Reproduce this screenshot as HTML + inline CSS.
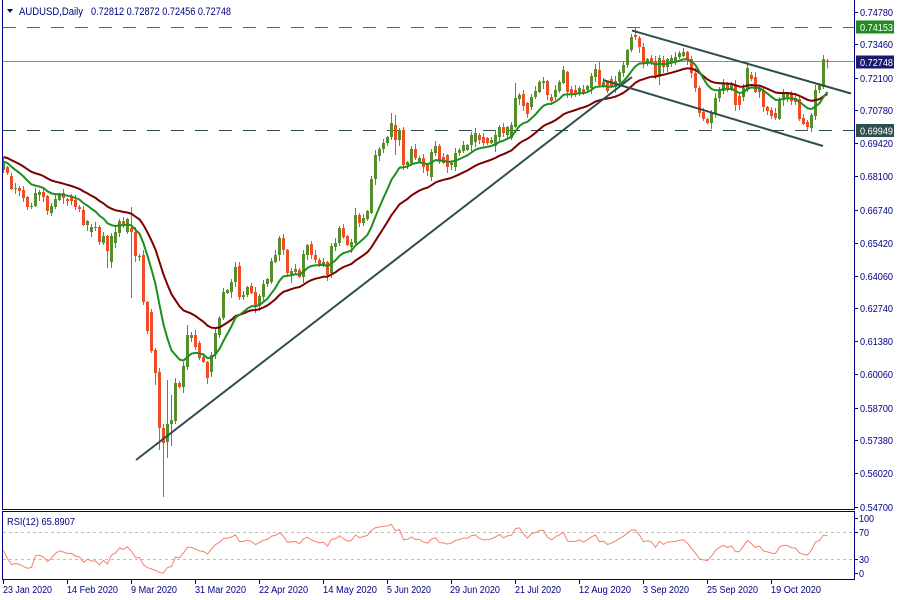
<!DOCTYPE html>
<html>
<head>
<meta charset="utf-8">
<style>
html,body{margin:0;padding:0;background:#fff;}
svg{display:block;}
text{font-family:"Liberation Sans",sans-serif;}
</style>
</head>
<body>
<svg id="c" width="900" height="600" viewBox="0 0 900 600" xmlns="http://www.w3.org/2000/svg">
<rect x="0" y="0" width="900" height="600" fill="#ffffff"/>

<!-- horizontal levels -->
<line x1="3" y1="27.5" x2="854" y2="27.5" stroke="#2E8B2E" stroke-width="1" stroke-dasharray="13 11"/>
<line x1="3" y1="61.5" x2="854" y2="61.5" stroke="#8C8C8C" stroke-width="1"/>
<line x1="3" y1="130.5" x2="854" y2="130.5" stroke="#2F4F4F" stroke-width="1" stroke-dasharray="13 11"/>

<!-- candles -->
<path id="bull" fill="#558F2C" d=""/>
<path id="bear" fill="#F24C24" d=""/>

<!-- moving averages -->
<polyline id="maS" fill="none" stroke="#7F0000" stroke-width="2" points=""/>
<polyline id="maF" fill="none" stroke="#1E8E1E" stroke-width="2" points=""/>

<!-- trend lines -->
<line x1="136" y1="460" x2="632" y2="77" stroke="#2F4F4F" stroke-width="2"/>
<line x1="632" y1="30.5" x2="851" y2="93.5" stroke="#2F4F4F" stroke-width="2"/>
<line x1="603" y1="80" x2="823" y2="146" stroke="#2F4F4F" stroke-width="2"/>

<!-- frames -->
<line x1="2.5" y1="0" x2="2.5" y2="509.5" stroke="#000080" stroke-width="1"/>
<line x1="854.5" y1="0" x2="854.5" y2="509.5" stroke="#000080" stroke-width="1"/>
<line x1="2" y1="509.5" x2="855" y2="509.5" stroke="#000080" stroke-width="1"/>
<rect x="2.5" y="511.5" width="852" height="68" fill="none" stroke="#000080" stroke-width="1"/>

<!-- title -->
<polygon points="7,9 13,9 10,13" fill="#000080"/>
<text x="19" y="15" font-size="11" fill="#000080" textLength="64" lengthAdjust="spacingAndGlyphs">AUDUSD,Daily</text>
<text x="91" y="15" font-size="11" fill="#000080" textLength="140" lengthAdjust="spacingAndGlyphs">0.72812 0.72872 0.72456 0.72748</text>

<!-- right axis -->
<g stroke="#000080" stroke-width="1">
<line x1="854" y1="12.5" x2="858" y2="12.5"/>
<line x1="854" y1="44.5" x2="858" y2="44.5"/>
<line x1="854" y1="78.5" x2="858" y2="78.5"/>
<line x1="854" y1="110.5" x2="858" y2="110.5"/>
<line x1="854" y1="143.5" x2="858" y2="143.5"/>
<line x1="854" y1="176.5" x2="858" y2="176.5"/>
<line x1="854" y1="210.5" x2="858" y2="210.5"/>
<line x1="854" y1="243.5" x2="858" y2="243.5"/>
<line x1="854" y1="276.5" x2="858" y2="276.5"/>
<line x1="854" y1="308.5" x2="858" y2="308.5"/>
<line x1="854" y1="341.5" x2="858" y2="341.5"/>
<line x1="854" y1="374.5" x2="858" y2="374.5"/>
<line x1="854" y1="408.5" x2="858" y2="408.5"/>
<line x1="854" y1="440.5" x2="858" y2="440.5"/>
<line x1="854" y1="473.5" x2="858" y2="473.5"/>
<line x1="854" y1="507.5" x2="858" y2="507.5"/>
<line x1="854" y1="518.5" x2="858" y2="518.5"/>
<line x1="854" y1="532.5" x2="858" y2="532.5"/>
<line x1="854" y1="559.5" x2="858" y2="559.5"/>
<line x1="854" y1="573.5" x2="858" y2="573.5"/>
</g>
<g font-size="10" fill="#000080">
<text x="860" y="16" textLength="33" lengthAdjust="spacingAndGlyphs">0.74780</text>
<text x="860" y="48" textLength="33" lengthAdjust="spacingAndGlyphs">0.73460</text>
<text x="860" y="82" textLength="33" lengthAdjust="spacingAndGlyphs">0.72100</text>
<text x="860" y="114" textLength="33" lengthAdjust="spacingAndGlyphs">0.70780</text>
<text x="860" y="147" textLength="33" lengthAdjust="spacingAndGlyphs">0.69420</text>
<text x="860" y="180" textLength="33" lengthAdjust="spacingAndGlyphs">0.68100</text>
<text x="860" y="214" textLength="33" lengthAdjust="spacingAndGlyphs">0.66740</text>
<text x="860" y="247" textLength="33" lengthAdjust="spacingAndGlyphs">0.65420</text>
<text x="860" y="280" textLength="33" lengthAdjust="spacingAndGlyphs">0.64060</text>
<text x="860" y="312" textLength="33" lengthAdjust="spacingAndGlyphs">0.62740</text>
<text x="860" y="345" textLength="33" lengthAdjust="spacingAndGlyphs">0.61380</text>
<text x="860" y="378" textLength="33" lengthAdjust="spacingAndGlyphs">0.60060</text>
<text x="860" y="412" textLength="33" lengthAdjust="spacingAndGlyphs">0.58700</text>
<text x="860" y="444" textLength="33" lengthAdjust="spacingAndGlyphs">0.57380</text>
<text x="860" y="477" textLength="33" lengthAdjust="spacingAndGlyphs">0.56020</text>
<text x="860" y="511" textLength="33" lengthAdjust="spacingAndGlyphs">0.54700</text>
<text x="859" y="522" textLength="15" lengthAdjust="spacingAndGlyphs">100</text>
<text x="859" y="536" textLength="10" lengthAdjust="spacingAndGlyphs">70</text>
<text x="859" y="563" textLength="10" lengthAdjust="spacingAndGlyphs">30</text>
<text x="859" y="577" textLength="5" lengthAdjust="spacingAndGlyphs">0</text>
</g>

<!-- price boxes -->
<rect x="856" y="20.5" width="38" height="13" fill="#228B22"/>
<text x="860" y="31" font-size="10" fill="#ffffff" textLength="33" lengthAdjust="spacingAndGlyphs">0.74153</text>
<rect x="856" y="55.5" width="38" height="13" fill="#1A1A6E"/>
<text x="860" y="66" font-size="10" fill="#ffffff" textLength="33" lengthAdjust="spacingAndGlyphs">0.72748</text>
<rect x="856" y="124" width="38" height="13" fill="#2F4F4F"/>
<text x="860" y="134.5" font-size="10" fill="#ffffff" textLength="33" lengthAdjust="spacingAndGlyphs">0.69949</text>

<!-- RSI panel -->
<line x1="3" y1="532.5" x2="854" y2="532.5" stroke="#C0C0C0" stroke-width="1" stroke-dasharray="3 3"/>
<line x1="3" y1="559.5" x2="854" y2="559.5" stroke="#C0C0C0" stroke-width="1" stroke-dasharray="3 3"/>
<polyline id="rsi" fill="none" stroke="#F7806A" stroke-width="1" points=""/>
<text x="7" y="525" font-size="10" fill="#000080" textLength="68" lengthAdjust="spacingAndGlyphs">RSI(12) 65.8907</text>

<!-- date axis -->
<g stroke="#000080" stroke-width="1">
<line x1="3.5" y1="579" x2="3.5" y2="584"/>
<line x1="67.5" y1="579" x2="67.5" y2="584"/>
<line x1="131.5" y1="579" x2="131.5" y2="584"/>
<line x1="195.5" y1="579" x2="195.5" y2="584"/>
<line x1="259.5" y1="579" x2="259.5" y2="584"/>
<line x1="323.5" y1="579" x2="323.5" y2="584"/>
<line x1="387.5" y1="579" x2="387.5" y2="584"/>
<line x1="451.5" y1="579" x2="451.5" y2="584"/>
<line x1="515.5" y1="579" x2="515.5" y2="584"/>
<line x1="579.5" y1="579" x2="579.5" y2="584"/>
<line x1="643.5" y1="579" x2="643.5" y2="584"/>
<line x1="707.5" y1="579" x2="707.5" y2="584"/>
<line x1="771.5" y1="579" x2="771.5" y2="584"/>
</g>
<g font-size="10" fill="#000080">
<text x="3" y="593" textLength="49" lengthAdjust="spacingAndGlyphs">23 Jan 2020</text>
<text x="67" y="593" textLength="51" lengthAdjust="spacingAndGlyphs">14 Feb 2020</text>
<text x="131" y="593" textLength="46" lengthAdjust="spacingAndGlyphs">9 Mar 2020</text>
<text x="195" y="593" textLength="51" lengthAdjust="spacingAndGlyphs">31 Mar 2020</text>
<text x="259" y="593" textLength="49" lengthAdjust="spacingAndGlyphs">22 Apr 2020</text>
<text x="323" y="593" textLength="54" lengthAdjust="spacingAndGlyphs">14 May 2020</text>
<text x="387" y="593" textLength="44" lengthAdjust="spacingAndGlyphs">5 Jun 2020</text>
<text x="450" y="593" textLength="50" lengthAdjust="spacingAndGlyphs">29 Jun 2020</text>
<text x="515" y="593" textLength="46" lengthAdjust="spacingAndGlyphs">21 Jul 2020</text>
<text x="579" y="593" textLength="52" lengthAdjust="spacingAndGlyphs">12 Aug 2020</text>
<text x="643" y="593" textLength="46" lengthAdjust="spacingAndGlyphs">3 Sep 2020</text>
<text x="707" y="593" textLength="51" lengthAdjust="spacingAndGlyphs">25 Sep 2020</text>
<text x="771" y="593" textLength="50" lengthAdjust="spacingAndGlyphs">19 Oct 2020</text>
</g>
</svg>

<script>
(function(){
var D=[
170,161,167,173,176,189,188,188,188,191,190,198,197,207,207,206,206,193,195,192,
192,197,196,211,213,206,207,199,200,195,193,198,199,201,197,201,200,207,207,209,
210,225,225,221,232,227,227,227,227,242,243,236,236,251,262,236,243,232,233,221,
221,225,232,219,228,232,232,256,256,256,255,302,302,331,312,351,350,373,372,428,
428,443,442,424,424,420,421,383,383,387,387,366,367,335,338,335,335,347,343,358,
357,362,362,378,372,355,355,333,335,318,318,292,293,290,292,282,282,267,266,297,
297,295,295,287,286,293,292,307,306,296,297,284,284,279,282,261,262,255,255,238,
238,250,250,273,274,271,272,269,270,277,277,254,255,245,244,255,255,260,260,265,
266,262,262,275,273,246,247,243,243,228,228,237,236,245,247,242,243,215,215,223,
223,218,219,211,213,179,179,155,156,149,149,143,143,137,137,123,125,140,140,130,
130,165,165,162,163,149,149,158,162,158,158,167,165,171,177,152,153,146,146,162,
157,163,155,167,165,163,167,153,153,150,151,145,150,145,145,135,142,133,135,140,
137,143,138,143,143,140,146,135,137,127,127,133,135,127,138,125,127,98,99,95,
94,106,103,114,107,97,97,91,92,82,83,81,81,95,97,101,97,90,91,82,
83,70,72,92,89,93,90,93,93,88,89,93,90,86,88,76,77,69,70,85,
85,82,82,91,79,87,87,81,82,72,73,65,65,50,50,37,35,37,38,47,
47,63,62,59,58,62,61,77,77,58,60,67,67,59,63,58,62,57,57,53,
56,52,52,59,59,73,73,88,88,113,112,119,119,123,123,113,113,98,98,89,
91,83,83,90,90,85,85,105,96,105,97,88,90,68,75,79,77,92,92,88,
90,107,107,111,110,116,113,118,119,99,100,93,97,94,94,101,98,102,99,119,
118,124,122,127,128,115,116,90,90,85,87,59,60.5,62
];
var W={19:[0,212],26:[0,268],32:[207,298],35:[250,305],38:[348,385],39:[368,450],40:[424,497],41:[380,458],42:[395,446],43:[378,424],46:[325,370],59:[262,300],72:[268,283],88:[208,245],97:[113,140],98:[115,155],100:[127,170],128:[83,128],149:[62,87],158:[27,40],164:[55,85],174:[86,117],186:[62,92],201:[120,131],202:[113,132],206:[59,68.5]};
var pre=[138,142,140,146,150,152,155,158,160,156,158,155,154,156,153,152,155,157,158,160,157,155,158,160,163,165,162,166,168,165];
var n=D.length/2,g='',r='',closes=[];
for(var i=0;i<n;i++){
  var o=D[2*i],c=D[2*i+1];closes.push(c);
  var t=Math.min(o,c),b=Math.max(o,c);
  var hi=t-(1+(i*7+3)%5),lo=b+(1+(i*11+2)%6);
  if(W[i]){if(W[i][0])hi=W[i][0];if(W[i][1])lo=W[i][1];}
  var h=Math.max(1,b-t);
  var x=2+4*i;
  var s='M'+x+','+t+'h3v'+h+'h-3zM'+(x+1)+','+hi+'h1v'+(lo-hi)+'h-1z';
  if(c<=o)g+=s;else r+=s;
}
document.getElementById('bull').setAttribute('d',g);
document.getElementById('bear').setAttribute('d',r);
var full=pre.concat(closes),L=pre.length;
function ema(p){
  var a=2/(p+1),e=full[0],out=[];
  for(var k=0;k<full.length;k++){
    e=k?e+a*(full[k]-e):full[0];
    if(k>=L)out.push((3.5+4*(k-L)).toFixed(1)+','+e.toFixed(1));
  }
  return out.join(' ');
}
document.getElementById('maF').setAttribute('points',ema(13));
document.getElementById('maS').setAttribute('points',ema(28));
var P=12,ag=0,al=0,pts=[];
for(var k=1;k<=P;k++){var d=full[k-1]-full[k];if(d>0)ag+=d;else al-=d;}
ag/=P;al/=P;
for(var k=P+1;k<full.length;k++){
  var d=full[k-1]-full[k];
  ag=(ag*(P-1)+Math.max(d,0))/P;
  al=(al*(P-1)+Math.max(-d,0))/P;
  var v=al===0?100:100-100/(1+ag/al);
  if(k>=L){var y=579-v*0.667;if(y<513)y=513;if(y>578)y=578;pts.push((3.5+4*(k-L)).toFixed(1)+','+y.toFixed(1));}
}
document.getElementById('rsi').setAttribute('points',pts.join(' '));
})();
</script>
</body>
</html>
